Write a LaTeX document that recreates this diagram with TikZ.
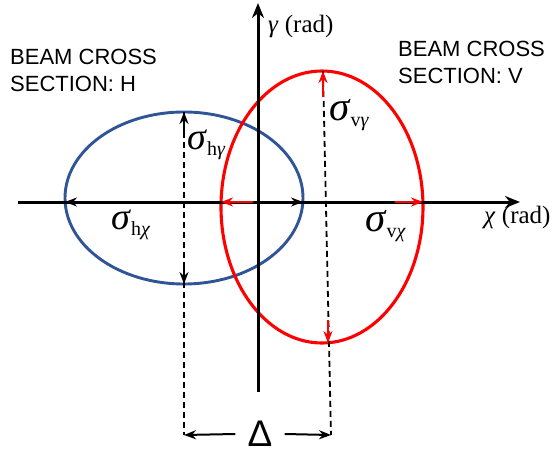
\documentclass[tikz,border=0pt]{standalone}
\usepackage{fontspec}
\setmainfont{Liberation Serif}
\setsansfont{Liberation Sans}
\usetikzlibrary{arrows.meta}
\definecolor{bluecol}{RGB}{47,85,151}
\newcommand{\sigl}[3]{{\fontsize{#1}{#1}\selectfont\textit{σ}}\raisebox{-6pt}{\fontsize{20}{20}\selectfont #2\textit{#3}}}

\begin{document}
\begin{tikzpicture}[x=1pt,y=-1pt, every node/.style={inner sep=0pt},
  axisline/.style={line width=3pt,-{Stealth[length=15pt,width=12pt]}},
  dimline/.style={line width=1.8pt,dash pattern=on 6pt off 4pt},
  blktip/.style={line width=2pt,-{Stealth[length=12pt,width=9pt]}},
  redtip/.style={red,line width=2pt,-{Stealth[length=12pt,width=9pt]}},
  beamtext/.style={anchor=north west,align=left,font=\sffamily\fontsize{22}{27}\selectfont}]
  \useasboundingbox (0,0) rectangle (555,455);
  % points on the two cross sections
  \coordinate (O) at (258,202);
  \coordinate (hc) at (184,202);
  \coordinate (hl) at (65,202);
  \coordinate (hr) at (303,202);
  \coordinate (ht) at (184,112);
  \coordinate (hb) at (184,284);
  \coordinate (hd) at (184,435);
  \coordinate (vl) at (221,202);
  \coordinate (vr) at (423,202);
  \coordinate (vt) at (323,71);
  \coordinate (vb) at (328,343);
  \coordinate (vd) at (331,435);
  \coordinate (xl) at (18,202);
  \coordinate (xr) at (520,202);
  \coordinate (yb) at (258,392);
  \coordinate (yt) at (258,3);
  \draw[bluecol,line width=2.9pt] (184,198) ellipse [x radius=119pt, y radius=86pt];
  \draw[red,line width=3.1pt] (322,207) ellipse [x radius=101pt, y radius=136pt];
  \draw[axisline] (xl) -- (xr);
  \draw[axisline] (yb) -- (yt);
  \draw[dimline] (ht) -- (hd);
  \draw[dimline] (vt) -- (vd);
  \draw[blktip] (hc) -- (hl);
  \draw[blktip] (hc) -- (hr);
  \draw[blktip] ([yshift=-25pt]ht) -- (ht);
  \draw[blktip] ([yshift=20pt]hb) -- (hb);
  \draw[redtip] ([xshift=32pt]vl) -- (vl);
  \draw[redtip] ([xshift=-28pt]vr) -- (vr);
  \draw[redtip] ([yshift=-26pt]vt) -- (vt);
  \draw[redtip] ([yshift=23pt]vb) -- (vb);
  \node[font=\sffamily\fontsize{37}{40}\selectfont,inner xsep=12pt] (delta) at (260,434) {Δ};
  \draw[blktip] (delta.west) -- (hd);
  \draw[blktip] (delta.east) -- (vd);
  \node[anchor=base west] (shg) at (187,149) {\sigl{38}{h}{γ}};
  \node[anchor=base west] (shx) at (111,229) {\sigl{38}{h}{χ}};
  \node[anchor=base west] (svg) at (329,120) {\sigl{41}{v}{γ}};
  \node[anchor=base west] (svx) at (365,231) {\sigl{41}{v}{χ}};
  \node[anchor=base west,font=\fontsize{25}{26}\selectfont] (ylab) at (268,32) {\textit{γ} (rad)};
  \node[anchor=base west,font=\fontsize{25}{26}\selectfont] (xlab) at (484,223) {\textit{χ} (rad)};
  \node[beamtext] (beamh) at (10,49) {BEAM CROSS\\SECTION: H};
  \node[beamtext] (beamv) at (398,41) {BEAM CROSS\\SECTION: V};
\end{tikzpicture}
\end{document}
